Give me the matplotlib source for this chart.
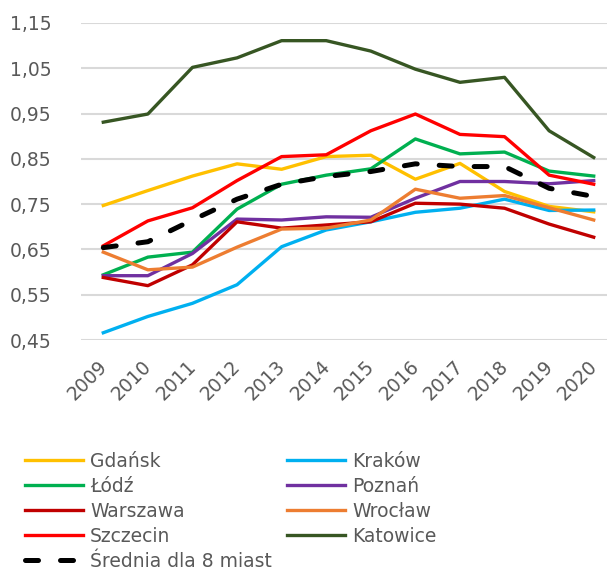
import matplotlib
matplotlib.use('Agg')
import matplotlib.pyplot as plt
from matplotlib.ticker import FuncFormatter
from matplotlib.transforms import ScaledTranslation

years = ['2009', '2010', '2011', '2012', '2013', '2014', '2015', '2016', '2017', '2018', '2019', '2020']

gdansk = [0.747, 0.780, 0.812, 0.839, 0.827, 0.855, 0.858, 0.805, 0.840, 0.778, 0.745, 0.733]
krakow = [0.466, 0.502, 0.531, 0.572, 0.656, 0.693, 0.711, 0.732, 0.741, 0.761, 0.736, 0.737]
lodz = [0.594, 0.633, 0.644, 0.739, 0.794, 0.814, 0.828, 0.894, 0.861, 0.865, 0.823, 0.812]
poznan = [0.592, 0.592, 0.641, 0.717, 0.715, 0.722, 0.721, 0.763, 0.800, 0.800, 0.795, 0.802]
warszawa = [0.588, 0.570, 0.616, 0.711, 0.697, 0.704, 0.711, 0.752, 0.750, 0.741, 0.706, 0.677]
wroclaw = [0.644, 0.605, 0.611, 0.655, 0.695, 0.697, 0.715, 0.783, 0.763, 0.769, 0.742, 0.715]
szczecin = [0.658, 0.713, 0.742, 0.802, 0.855, 0.859, 0.912, 0.949, 0.904, 0.899, 0.814, 0.794]
katowice = [0.931, 0.949, 1.052, 1.073, 1.111, 1.111, 1.088, 1.048, 1.019, 1.030, 0.912, 0.853]
srednia = [0.654, 0.667, 0.715, 0.761, 0.794, 0.811, 0.822, 0.839, 0.833, 0.833, 0.785, 0.767]

yticks = [0.45, 0.55, 0.65, 0.75, 0.85, 0.95, 1.05, 1.15]

text_color = '#595959'
fs = 13.5
plt.rcParams['font.family'] = ['DejaVu Sans']
plt.rcParams['font.size'] = fs

fig = plt.figure(figsize=(6.07, 5.68), dpi=100)
ax = fig.add_axes([81 / 607, 1 - 340 / 568, 535 / 607, 317 / 568])

x = range(len(years))
lw = 2.4
l_gd, = ax.plot(x, gdansk, color='#FFC000', lw=lw, label='Gdańsk')
l_kr, = ax.plot(x, krakow, color='#00B0F0', lw=lw, label='Kraków')
l_lo, = ax.plot(x, lodz, color='#00B050', lw=lw, label='Łódź')
l_po, = ax.plot(x, poznan, color='#7030A0', lw=lw, label='Poznań')
l_wa, = ax.plot(x, warszawa, color='#C00000', lw=lw, label='Warszawa')
l_wr, = ax.plot(x, wroclaw, color='#ED7D31', lw=lw, label='Wrocław')
l_sz, = ax.plot(x, szczecin, color='#FF0000', lw=lw, label='Szczecin')
l_ka, = ax.plot(x, katowice, color='#375623', lw=lw, label='Katowice')
l_sr, = ax.plot(x, srednia, color='black', lw=3.6, dashes=(2.6, 4.4),
                dash_capstyle='round', label='Średnia dla 8 miast')

ax.set_xlim(-0.5, len(years) - 0.5)
ax.set_ylim(0.45, 1.15)
ax.set_yticks(yticks)
ax.yaxis.set_major_formatter(FuncFormatter(lambda v, p: f'{v:.2f}'.replace('.', ',')))
ax.set_xticks(list(x))
ax.set_xticklabels(years, rotation=45, ha='right', rotation_mode='anchor')
ax.tick_params(axis='both', length=0, colors=text_color, labelsize=fs)
ax.tick_params(axis='y', pad=21)
ax.tick_params(axis='x', pad=12)
# shift year labels a bit to the left, like Excel does
shift = ScaledTranslation(-6 / 100, 0, fig.dpi_scale_trans)
for lab in ax.get_xticklabels():
    lab.set_transform(lab.get_transform() + shift)
ax.grid(axis='y', color='#D9D9D9', lw=1.5)
ax.set_axisbelow(True)
for s in ax.spines.values():
    s.set_visible(False)

handles = [l_gd, l_lo, l_wa, l_sz, l_sr, l_kr, l_po, l_wr, l_ka]
leg = fig.legend(handles=handles, labels=[h.get_label() for h in handles],
                 ncol=2, loc='upper left', bbox_to_anchor=(25 / 607, 1 - 452 / 568),
                 frameon=False, handlelength=3.1, handletextpad=0.37,
                 columnspacing=0.8, labelspacing=0.32, borderpad=0, borderaxespad=0,
                 fontsize=fs)
for t in leg.get_texts():
    t.set_color(text_color)

fig.savefig('out.png', dpi=100)
